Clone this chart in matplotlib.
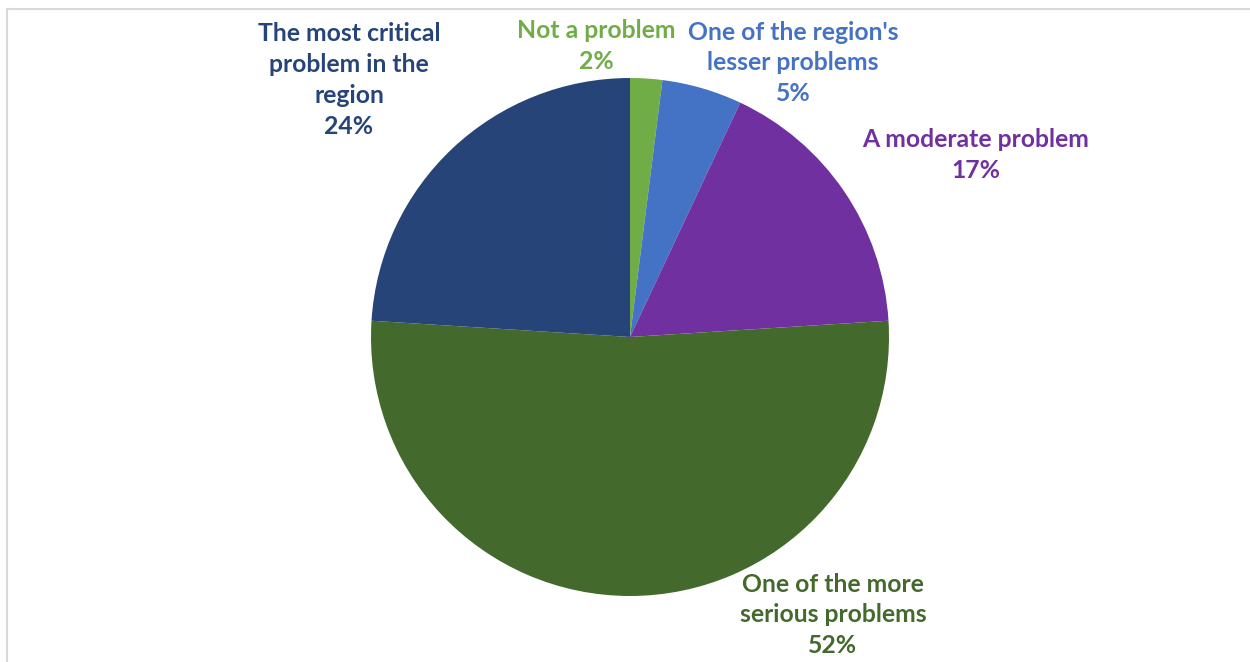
import matplotlib.pyplot as plt
from matplotlib.lines import Line2D

plt.rcParams['font.family'] = ['Lato', 'DejaVu Sans']

categories = ["Not a problem", "One of the region's\nlesser problems",
              "A moderate problem", "One of the more\nserious problems",
              "The most critical\nproblem in the\nregion"]
shares = [2, 5, 17, 52, 24]
colors = ['#70AD47', '#4472C4', '#7030A0', '#44692C', '#264478']

# label centres in pixels (x, y from top), set by hand to match the layout
label_pos = [(596, 46), (793, 63), (976, 155), (833, 615), (349, 80)]

W, H = 1250, 662
fig = plt.figure(figsize=(W / 100, H / 100), dpi=100)

cx, cy, r = 630, 337, 259
ax = fig.add_axes([(cx - r) / W, (H - cy - r) / H, 2 * r / W, 2 * r / H])
ax.pie(shares, colors=colors, startangle=90, counterclock=False,
       wedgeprops=dict(linewidth=0))
ax.set_xlim(-1, 1)
ax.set_ylim(-1, 1)
ax.set_axis_off()

for cat, val, col, (px, py) in zip(categories, shares, colors, label_pos):
    fig.text(px / W, 1 - py / H, f"{cat}\n{val}%", color=col, fontsize=17.8,
             fontweight='bold', ha='center', va='center', linespacing=1.41)

# light frame on top and left, as in the source
fig.add_artist(Line2D([7 / W, 1], [1 - 8.5 / H] * 2, color='#d9d9d9', lw=1.5))
fig.add_artist(Line2D([7 / W] * 2, [0, 1 - 8.5 / H], color='#d9d9d9', lw=1.5))

fig.savefig('out.png', dpi=100)
